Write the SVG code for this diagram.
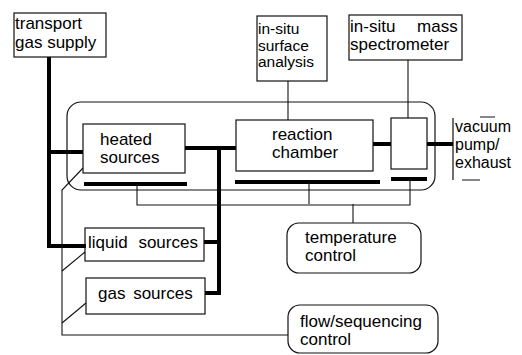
<svg xmlns="http://www.w3.org/2000/svg" width="522" height="355" viewBox="0 0 522 355">
<style>
.box{fill:none;stroke:#111;stroke-width:1.2}
.thin{fill:none;stroke:#111;stroke-width:1.1}
.thick{fill:none;stroke:#000;stroke-width:4}
text{font-family:"Liberation Sans",Arial,sans-serif;font-size:17px;fill:#000}
.sm{font-size:15.5px}
.md{font-size:16px}
</style>
<rect width="522" height="355" fill="#fff"/>
<g id="connectors">
<path class="thick" d="M49,57 V246 H86"/>
<path class="thick" d="M49,152 H83"/>
<path class="thick" d="M185,148 H236"/>
<path class="thick" d="M219,148 V293 H205"/>
<path class="thick" d="M204,242 H219"/>
<path class="thick" d="M373,144 H391"/>
<path class="thick" d="M427,144 H453"/>
<path class="thick" d="M84,184 H187"/>
<path class="thick" d="M235,182 H380"/>
<path class="thick" d="M391,179 H427"/>
<path class="thin" d="M288,81 V120"/>
<path class="thin" d="M408,60 V118"/>
<path class="thin" d="M137,184 V205 H410 V179"/>
<path class="thin" d="M309,182 V204"/>
<path class="thin" d="M353,204 V223"/>
<path class="thin" d="M83,168 L62,190 V335 H288"/>
<path class="thin" d="M62,271 L85,252"/>
<path class="thin" d="M62,323 L86,303"/>
</g>
<g id="enclosure">
<rect class="box" x="67" y="102" width="368" height="88" rx="14"/>
</g>
<g id="transport-gas-supply">
<rect class="box" x="14" y="13" width="92" height="44"/>
<text x="15" y="29">transport</text>
<text x="15" y="48">gas supply</text>
</g>
<g id="surface-analysis">
<rect class="box" x="257" y="16" width="70" height="65"/>
<text class="sm" x="258" y="34">in-situ</text>
<text class="sm" x="258" y="50.5">surface</text>
<text class="sm" x="258" y="67">analysis</text>
</g>
<g id="mass-spectrometer">
<rect class="box" x="349" y="15" width="113" height="45"/>
<text x="350" y="32" word-spacing="17">in-situ mass</text>
<text x="350" y="50">spectrometer</text>
</g>
<g id="heated-sources">
<rect class="box" x="83" y="124" width="102" height="49"/>
<text x="100" y="145">heated</text>
<text x="100" y="163">sources</text>
</g>
<g id="reaction-chamber">
<rect class="box" x="236" y="120" width="137" height="51"/>
<text x="272" y="140">reaction</text>
<text x="272" y="158">chamber</text>
</g>
<g id="mass-spec-cell">
<rect class="box" x="391" y="118" width="36" height="51"/>
</g>
<g id="vacuum-pump">
<path class="box" d="M453,118 V180 M480,117 H495 M462,180 H480"/>
<text class="md" x="455" y="132">vacuum</text>
<text class="md" x="455" y="150">pump/</text>
<text class="md" x="455" y="168">exhaust</text>
</g>
<g id="liquid-sources">
<rect class="box" x="85" y="228" width="119" height="33"/>
<text x="88" y="248" word-spacing="6">liquid sources</text>
</g>
<g id="gas-sources">
<rect class="box" x="86" y="278" width="119" height="36"/>
<text x="98" y="299" word-spacing="3">gas sources</text>
</g>
<g id="temperature-control">
<rect class="box" x="287" y="223" width="134" height="50" rx="12"/>
<text x="305" y="243">temperature</text>
<text x="305" y="261">control</text>
</g>
<g id="flow-sequencing-control">
<rect class="box" x="288" y="305" width="150" height="48" rx="12"/>
<text x="300" y="327">flow/sequencing</text>
<text x="300" y="345">control</text>
</g>
</svg>
